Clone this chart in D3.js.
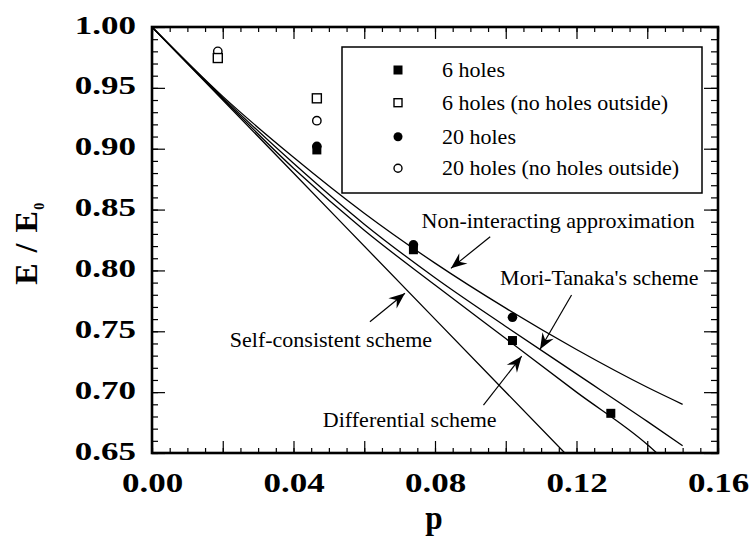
<!DOCTYPE html>
<html>
<head>
  <meta charset="utf-8">
  <title>E/E0 versus p</title>
  <script src="https://cdn.jsdelivr.net/npm/d3@7/dist/d3.min.js"></script>
  <style>
    body { margin: 0; background: #fff; }
    svg { display: block; }
    svg text { font-family: "Liberation Serif", "Times New Roman", Tinos, "DejaVu Serif", serif; }
  </style>
</head>
<body>
  <svg width="753" height="536"></svg>
  <script>
    // axis ticks
    var pTicks = [0, 0.04, 0.08, 0.12, 0.16];
    var eTicks = [0.65, 0.70, 0.75, 0.80, 0.85, 0.90, 0.95, 1.00];

    // theory curves
    var niP = [0, 0.02, 0.04, 0.06, 0.08, 0.10, 0.12, 0.14, 0.15];
    var niE = [1, 0.943, 0.893, 0.847, 0.806, 0.769, 0.735, 0.704, 0.690];
    var mtP = [0, 0.02, 0.04, 0.06, 0.08, 0.10, 0.12, 0.14, 0.15];
    var mtE = [1, 0.942, 0.888, 0.838, 0.794, 0.754, 0.715, 0.676, 0.656];
    var dfP = [0, 0.02, 0.04, 0.06, 0.08, 0.10, 0.12, 0.14, 0.1427];
    var dfE = [1, 0.941, 0.884, 0.833, 0.788, 0.744, 0.700, 0.657, 0.650];
    var scP = [0, 0.04, 0.08, 0.1167];
    var scE = [1, 0.88, 0.76, 0.65];

    // measured points
    var sixP = [0.0466, 0.0739, 0.1019, 0.1297];
    var sixE = [0.899, 0.817, 0.7424, 0.6826];
    var sixOutP = [0.0186, 0.0466];
    var sixOutE = [0.9745, 0.9414];
    var twentyP = [0.0466, 0.0739, 0.1019];
    var twentyE = [0.902, 0.821, 0.7615];
    var twentyOutP = [0.0186, 0.0466];
    var twentyOutE = [0.980, 0.923];

    var legendNames = ["6 holes", "6 holes (no holes outside)", "20 holes", "20 holes (no holes outside)"];

    // annotation labels and arrows, in data units
    var noteText = ["Non-interacting approximation", "Mori-Tanaka's scheme", "Self-consistent scheme", "Differential scheme"];
    var noteTextP = [0.0762, 0.0984, 0.0220, 0.0483];
    var noteTextE = [0.8346, 0.788, 0.7373, 0.6716];
    var arrowFromP = [0.0956, 0.1186, 0.0616, 0.0937];
    var arrowFromE = [0.8277, 0.7798, 0.7579, 0.6894];
    var arrowToP = [0.0845, 0.1097, 0.0715, 0.1045];
    var arrowToE = [0.8017, 0.7352, 0.7812, 0.7295];

    var marge = { top: 27, right: 35, bottom: 83, left: 152 };

    var svg = d3.select("svg");
    var width = +svg.attr("width") - marge.left - marge.right;
    var height = +svg.attr("height") - marge.top - marge.bottom;

    var x = d3.scaleLinear().domain([0, 0.16]).range([0, width]);
    var y = d3.scaleLinear().domain([0.65, 1]).range([height, 0]);

    var g = svg.append("g")
      .attr("transform", "translate(" + marge.left + "," + marge.top + ")");

    svg.append("defs").append("clipPath").attr("id", "plotclip")
      .append("rect").attr("width", width).attr("height", height);

    svg.select("defs").append("marker")
      .attr("id", "head")
      .attr("markerUnits", "userSpaceOnUse")
      .attr("viewBox", "-18 -8 20 16")
      .attr("markerWidth", 20).attr("markerHeight", 16)
      .attr("refX", 0).attr("refY", 0)
      .attr("orient", "auto")
      .append("path")
      .attr("d", "M0,0 L-16,-6.5 L-10.5,0 L-16,6.5 Z")
      .attr("fill", "#000");

    // inward ticks on all four sides
    var pMinor = d3.range(0, 0.1601, 0.005);
    var pMajor = d3.range(0, 0.1601, 0.02);
    var eMinor = d3.range(0.65, 1.0001, 0.01);
    var eMajor = d3.range(0.65, 1.0001, 0.05);

    function tickAxis(axis, pos) {
      var a = g.append("g").attr("transform", pos).call(axis);
      a.select(".domain").remove();
      a.selectAll("text").remove();
      a.selectAll("line").attr("stroke", "#000").attr("stroke-width", 1.2);
      return a;
    }
    tickAxis(d3.axisBottom(x).tickValues(pMinor).tickSize(-5), "translate(0," + height + ")");
    tickAxis(d3.axisBottom(x).tickValues(pMajor).tickSize(-12), "translate(0," + height + ")");
    tickAxis(d3.axisTop(x).tickValues(pMinor).tickSize(-5), "translate(0,0)");
    tickAxis(d3.axisTop(x).tickValues(pMajor).tickSize(-12), "translate(0,0)");
    tickAxis(d3.axisLeft(y).tickValues(eMinor).tickSize(-6), "translate(0,0)");
    tickAxis(d3.axisLeft(y).tickValues(eMajor).tickSize(-13), "translate(0,0)");
    tickAxis(d3.axisRight(y).tickValues(eMinor).tickSize(-7), "translate(" + width + ",0)");
    tickAxis(d3.axisRight(y).tickValues(eMajor).tickSize(-14), "translate(" + width + ",0)");

    // tick labels (wide bold type)
    var xLab = g.append("g").attr("transform", "translate(0," + height + ")")
      .call(d3.axisBottom(x).tickValues(pTicks).tickFormat(d3.format(".2f")).tickSize(0));
    xLab.select(".domain").remove();
    xLab.attr("font-family", null).attr("font-size", null);
    xLab.selectAll("text")
      .attr("y", 39).attr("dy", 0)
      .attr("font-weight", "bold").attr("font-size", 28)
      .attr("fill", "#000")
      .attr("transform", "scale(1.25,1)");

    var ySx = 1.4;
    var yLab = g.append("g")
      .call(d3.axisLeft(y).tickValues(eTicks).tickFormat(d3.format(".2f")).tickSize(0));
    yLab.select(".domain").remove();
    yLab.attr("font-family", null).attr("font-size", null);
    yLab.selectAll("text")
      .attr("x", -16 / ySx).attr("dy", 6)
      .attr("font-weight", "bold").attr("font-size", 25)
      .attr("fill", "#000")
      .attr("transform", "scale(" + ySx + ",1)");

    // axis titles
    svg.append("text")
      .attr("transform", "translate(434,529) scale(0.95,1)")
      .attr("text-anchor", "middle")
      .attr("font-weight", "bold").attr("font-size", 33)
      .text("p");

    var yt = svg.append("text")
      .attr("transform", "translate(37,243) rotate(-90)")
      .attr("text-anchor", "middle")
      .attr("font-weight", "bold").attr("font-size", 32)
      .attr("letter-spacing", 1.5);
    yt.append("tspan").text("E / E");
    yt.append("tspan").attr("font-size", 14).attr("dy", 7).text("0");

    // theory curves
    var line = d3.line()
      .x(function (d) { return x(d[0]); })
      .y(function (d) { return y(d[1]); })
      .curve(d3.curveMonotoneX);

    var curves = [[niP, niE], [mtP, mtE], [dfP, dfE], [scP, scE]];
    g.append("g").attr("clip-path", "url(#plotclip)")
      .selectAll("path")
      .data(curves)
      .enter()
      .append("path")
      .attr("d", function (c) { return line(d3.zip(c[0], c[1])); })
      .attr("fill", "none")
      .attr("stroke", "#000")
      .attr("stroke-width", 1.3);

    // data points
    var sq = 9;
    function squares(ps, es, fill) {
      g.append("g").selectAll("rect")
        .data(d3.zip(ps, es))
        .enter()
        .append("rect")
        .attr("x", function (d) { return x(d[0]) - sq / 2; })
        .attr("y", function (d) { return y(d[1]) - sq / 2; })
        .attr("width", sq).attr("height", sq)
        .attr("fill", fill)
        .attr("stroke", "#000").attr("stroke-width", fill === "#000" ? 0 : 1.4);
    }
    function circles(ps, es, fill) {
      g.append("g").selectAll("circle")
        .data(d3.zip(ps, es))
        .enter()
        .append("circle")
        .attr("cx", function (d) { return x(d[0]); })
        .attr("cy", function (d) { return y(d[1]); })
        .attr("r", fill === "#000" ? 4.8 : 4.2)
        .attr("fill", fill)
        .attr("stroke", "#000").attr("stroke-width", fill === "#000" ? 0 : 1.4);
    }
    circles(twentyOutP, twentyOutE, "#fff");
    squares(sixOutP, sixOutE, "#fff");
    circles(twentyP, twentyE, "#000");
    squares(sixP, sixE, "#000");

    // annotations
    var notes = g.append("g");
    notes.selectAll("text")
      .data(noteText)
      .enter()
      .append("text")
      .attr("x", function (d, i) { return x(noteTextP[i]); })
      .attr("y", function (d, i) { return y(noteTextE[i]); })
      .attr("font-size", 22)
      .text(function (d) { return d; });
    notes.selectAll("line")
      .data(noteText)
      .enter()
      .append("line")
      .attr("x1", function (d, i) { return x(arrowFromP[i]); })
      .attr("y1", function (d, i) { return y(arrowFromE[i]); })
      .attr("x2", function (d, i) { return x(arrowToP[i]); })
      .attr("y2", function (d, i) { return y(arrowToE[i]); })
      .attr("stroke", "#000").attr("stroke-width", 1.2)
      .attr("marker-end", "url(#head)");

    // legend
    var lg = g.append("g").attr("transform", "translate(190,20)");
    lg.append("rect")
      .attr("width", 360).attr("height", 146)
      .attr("fill", "#fff").attr("stroke", "#000").attr("stroke-width", 1.5);
    var rowY = [23, 55.7, 89.7, 121.3];
    var mx = 56, tx = 100;
    lg.append("rect").attr("x", mx - 4.5).attr("y", rowY[0] - 4.5).attr("width", 9).attr("height", 9).attr("fill", "#000");
    lg.append("rect").attr("x", mx - 4).attr("y", rowY[1] - 4).attr("width", 8).attr("height", 8)
      .attr("fill", "#fff").attr("stroke", "#000").attr("stroke-width", 1.4);
    lg.append("circle").attr("cx", mx).attr("cy", rowY[2]).attr("r", 4.5).attr("fill", "#000");
    lg.append("circle").attr("cx", mx).attr("cy", rowY[3]).attr("r", 4)
      .attr("fill", "#fff").attr("stroke", "#000").attr("stroke-width", 1.4);
    lg.selectAll("text")
      .data(legendNames)
      .enter()
      .append("text")
      .attr("x", tx)
      .attr("y", function (d, i) { return rowY[i] + 7; })
      .attr("font-size", 22)
      .text(function (d) { return d; });

    // frame
    g.append("rect")
      .attr("width", width).attr("height", height)
      .attr("fill", "none").attr("stroke", "#000").attr("stroke-width", 2.6);
  </script>
</body>
</html>
